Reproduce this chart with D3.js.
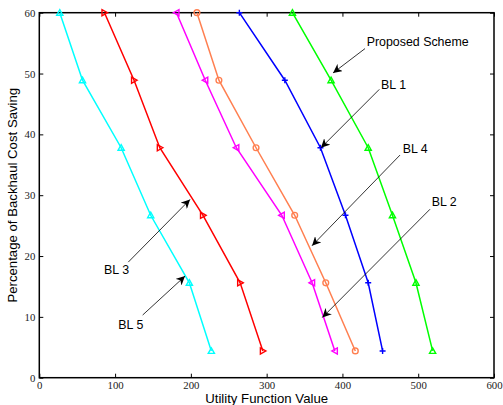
<!DOCTYPE html>
<html>
<head>
<meta charset="utf-8">
<script src="https://cdn.jsdelivr.net/npm/d3@7"></script>
<style>
  body { margin: 0; background: #fff; }
  .tick text { font-family: "Liberation Serif", "Times New Roman", serif; font-size: 10.8px; fill: #222; }
  .title { font-family: "Liberation Sans", Arial, sans-serif; font-size: 13.2px; fill: #000; }
  .note { font-family: "Liberation Sans", Arial, sans-serif; font-size: 12.4px; fill: #000; }
</style>
</head>
<body>
<script>
const W = 503, H = 405;
const margin = {top: 12.7, right: 9, bottom: 27.3, left: 39.3};
const width = W - margin.left - margin.right;
const height = H - margin.top - margin.bottom;

// percentage of backhaul cost saving (same for every scheme)
var savings = [60, 48.9, 37.8, 26.7, 15.6, 4.4];

// utility function value per scheme
var bl5 = [27, 57, 108, 147, 198, 227];
var bl3 = [86, 125, 159, 216, 265, 295];
var bl2 = [181, 219, 260, 320, 360, 390];
var bl4 = [208, 237, 286, 337, 378, 417];
var bl1 = [264, 324, 371, 404, 434, 453];
var proposed = [334, 385, 434, 466, 497, 519];

var xTicks = [0, 100, 200, 300, 400, 500, 600];
var yTicks = [0, 10, 20, 30, 40, 50, 60];

// annotation text anchor, arrow tail and arrow head (data units)
var notes = [
  {label: "Proposed Scheme", text: [432, 54.5], tail: [429.8, 54.1], head: [387.6, 50.1]},
  {label: "BL 1", text: [450.9, 47.5], tail: [448.7, 47.4], head: [371.7, 37.8]},
  {label: "BL 4", text: [479.5, 37.0], tail: [476.0, 36.6], head: [359.9, 21.7]},
  {label: "BL 2", text: [517.8, 28.2], tail: [515.6, 27.7], head: [373.5, 9.9]},
  {label: "BL 3", text: [85.4, 17.0], tail: [117.4, 19.0], head: [198.9, 29.3]},
  {label: "BL 5", text: [104.2, 8.05], tail: [136.4, 10.3], head: [192.3, 16.7]}
];

var series = [
  {name: "BL 5", vals: bl5, color: "#00ffff", marker: "up"},
  {name: "BL 3", vals: bl3, color: "#ff0000", marker: "right"},
  {name: "BL 2", vals: bl2, color: "#ff00ff", marker: "left"},
  {name: "BL 4", vals: bl4, color: "#ff7f50", marker: "circle"},
  {name: "BL 1", vals: bl1, color: "#0000ff", marker: "plus"},
  {name: "Proposed Scheme", vals: proposed, color: "#00ff00", marker: "up"}
];

var xScale = d3.scaleLinear().domain([0, 600]).range([0, width]);
var yScale = d3.scaleLinear().domain([0, 60]).range([height, 0]);

var svg = d3.select("body").append("svg")
    .attr("width", W)
    .attr("height", H);
svg.append("rect").attr("width", W).attr("height", H).attr("fill", "#fff");

var g = svg.append("g")
    .attr("transform", "translate(" + margin.left + "," + margin.top + ")");

// axes, ticks pointing inward on all four sides
function styleAxis(sel) {
  sel.select(".domain").remove();
  sel.selectAll(".tick line").attr("stroke", "#000").attr("stroke-width", 1);
}

g.append("g")
    .attr("transform", "translate(0," + height + ")")
    .call(d3.axisBottom(xScale).tickValues(xTicks).tickSizeInner(-4).tickPadding(4))
    .call(styleAxis);
g.append("g")
    .call(d3.axisTop(xScale).tickValues(xTicks).tickSizeInner(-4).tickFormat(""))
    .call(styleAxis);
g.append("g")
    .call(d3.axisLeft(yScale).tickValues(yTicks).tickSizeInner(-4).tickPadding(4))
    .call(styleAxis);
g.append("g")
    .attr("transform", "translate(" + width + ",0)")
    .call(d3.axisRight(yScale).tickValues(yTicks).tickSizeInner(-4).tickFormat(""))
    .call(styleAxis);

g.append("rect")
    .attr("width", width).attr("height", height)
    .attr("fill", "none").attr("stroke", "#000").attr("stroke-width", 1.5);

// series lines
var line = d3.line()
    .x(function(d) { return xScale(d[0]); })
    .y(function(d) { return yScale(d[1]); });

function markerPath(type) {
  var s = 3.1;
  if (type == "up") return "M0," + (-s) + "L" + s + "," + (s*0.8) + "L" + (-s) + "," + (s*0.8) + "Z";
  if (type == "right") return "M" + s + ",0L" + (-s*0.8) + "," + s + "L" + (-s*0.8) + "," + (-s) + "Z";
  if (type == "left") return "M" + (-s) + ",0L" + (s*0.8) + "," + s + "L" + (s*0.8) + "," + (-s) + "Z";
  if (type == "plus") return "M-3,0H3M0,-3V3";
  return d3.symbol(d3.symbolCircle, 26)();
}

series.forEach(function(s) {
  var pts = s.vals.map(function(v, i) { return [v, savings[i]]; });
  g.append("path")
      .datum(pts)
      .attr("d", line)
      .attr("fill", "none")
      .attr("stroke", s.color)
      .attr("stroke-width", 1.5);
  g.selectAll(null).data(pts).enter().append("path")
      .attr("transform", function(d) { return "translate(" + xScale(d[0]) + "," + yScale(d[1]) + ")"; })
      .attr("d", markerPath(s.marker))
      .attr("fill", "none")
      .attr("stroke", s.color)
      .attr("stroke-width", 1.4);
});

// annotation arrows
svg.append("defs").append("marker")
    .attr("id", "arrowhead")
    .attr("viewBox", "0 0 10 10")
    .attr("refX", 10).attr("refY", 5)
    .attr("markerWidth", 9).attr("markerHeight", 9)
    .attr("markerUnits", "userSpaceOnUse")
    .attr("orient", "auto")
  .append("path")
    .attr("d", "M0,0L10,5L0,10L3,5Z")
    .attr("fill", "#000");

notes.forEach(function(n) {
  g.append("line")
      .attr("x1", xScale(n.tail[0])).attr("y1", yScale(n.tail[1]))
      .attr("x2", xScale(n.head[0])).attr("y2", yScale(n.head[1]))
      .attr("stroke", "#000")
      .attr("stroke-width", 0.8)
      .attr("marker-end", "url(#arrowhead)");
  g.append("text")
      .attr("class", "note")
      .attr("x", xScale(n.text[0]))
      .attr("y", yScale(n.text[1]))
      .text(n.label);
});

// axis titles
svg.append("text")
    .attr("class", "title")
    .attr("text-anchor", "middle")
    .attr("x", margin.left + width / 2)
    .attr("y", 403)
    .text("Utility Function Value");
svg.append("text")
    .attr("class", "title")
    .attr("text-anchor", "middle")
    .attr("transform", "translate(17," + (margin.top + height / 2) + ") rotate(-90)")
    .text("Percentage of Backhaul Cost Saving");
</script>
</body>
</html>
